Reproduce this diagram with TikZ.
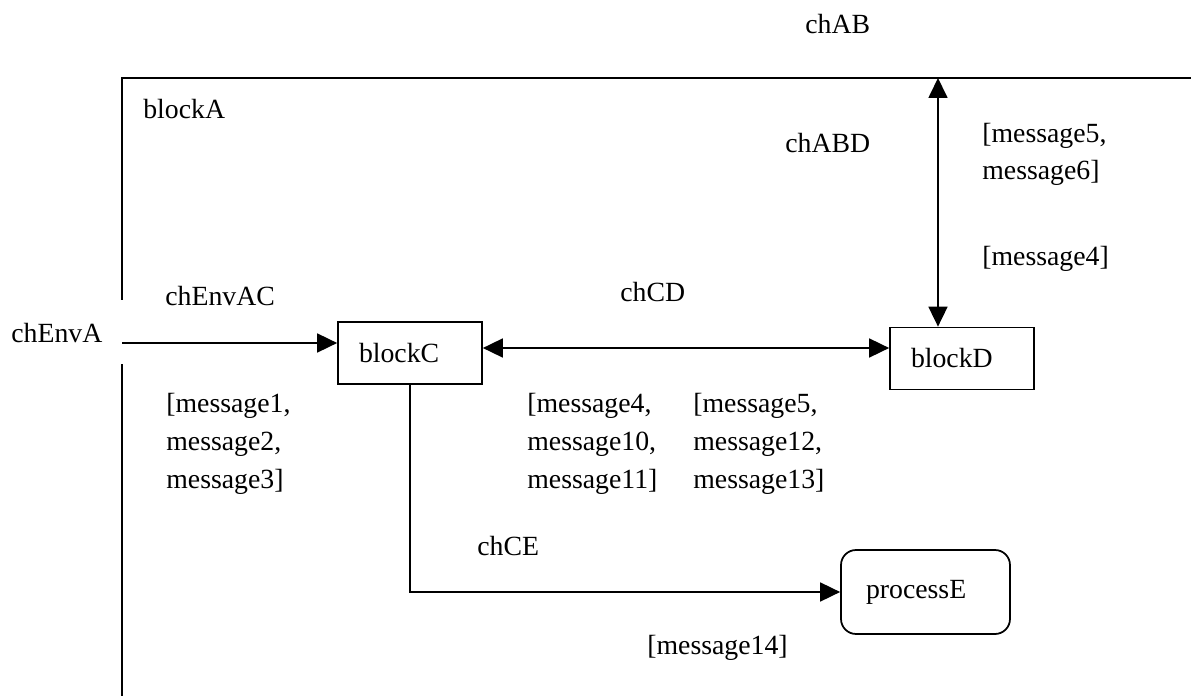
\documentclass[tikz,border=0pt]{standalone}
\usepackage{fontspec}
\setmainfont{Liberation Serif}
\usetikzlibrary{arrows.meta}

\begin{document}
\begin{tikzpicture}[x=0.02cm, y=-0.02cm, >={Triangle[length=0.4cm, width=0.38cm]}, font=\fontsize{15.8}{21.6}\selectfont]
        % Styles
        \tikzset{block/.style={rectangle, draw, line width=1pt, text width=2.04cm, align=left, inner xsep=0.42cm, minimum height=1.24cm}}
        \tikzset{process/.style={rectangle, draw, line width=1pt, rounded corners=0.3cm, text width=2.38cm, align=left, inner xsep=0.5cm, minimum height=1.68cm}}
        \tikzset{chlabel/.style={anchor=base west, inner sep=0pt, align=left}}
        \tikzset{channel/.style={line width=1pt}}

        \useasboundingbox (0,0) rectangle (1191,696);

        % Frame of blockA
        \coordinate (topright) at (1191,78);
        \coordinate (corner) at (122,78);
        \coordinate (gaptop) at (122,300);
        \coordinate (gapbot) at (122,364);
        \coordinate (bottom) at (122,696);
        \draw[channel] (topright) -- (corner) -- (gaptop);
        \draw[channel] (gapbot) -- (bottom);

        % Blocks
        \node[block] (blockC) at (410,353) {blockC};
        \node[block] (blockD) at (962,358.5) {blockD};
        \node[process] (processE) at (925.5,592) {processE};

        % Channel ends
        \coordinate (envA) at (122,343);
        \coordinate (cdlevel) at (0,348);
        \coordinate (abend) at (938,78);

        % Connections
        \draw[channel, ->] (envA) -- (envA -| blockC.west);
        \draw[channel, <->] (blockC.east |- cdlevel) -- (blockD.west |- cdlevel);
        \draw[channel, <->] (abend) -- (abend |- blockD.north);
        \draw[channel, ->] (blockC.south) |- (processE.west);

        % Labels (base = last line)
        \node[chlabel] (lAB) at (805,34) {chAB};
        \node[chlabel] (lblockA) at (143,119) {blockA};
        \node[chlabel] (lABD) at (785,153) {chABD};
        \node[chlabel] (mABDup) at (982,180) {[message5,\\message6]};
        \node[chlabel] (mABDdown) at (982,265) {[message4]};
        \node[chlabel] (lEnvAC) at (165,305) {chEnvAC};
        \node[chlabel] (lCD) at (620,301) {chCD};
        \node[chlabel] (lEnvA) at (11,342) {chEnvA};
        \node[chlabel] (mEnvAC) at (166,488) {[message1,\\message2,\\message3]};
        \node[chlabel] (mCDleft) at (527,488) {[message4,\\message10,\\message11]};
        \node[chlabel] (mCDright) at (693,488) {[message5,\\message12,\\message13]};
        \node[chlabel] (lCE) at (477,555) {chCE};
        \node[chlabel] (mCE) at (647,654) {[message14]};
    \end{tikzpicture}
\end{document}
